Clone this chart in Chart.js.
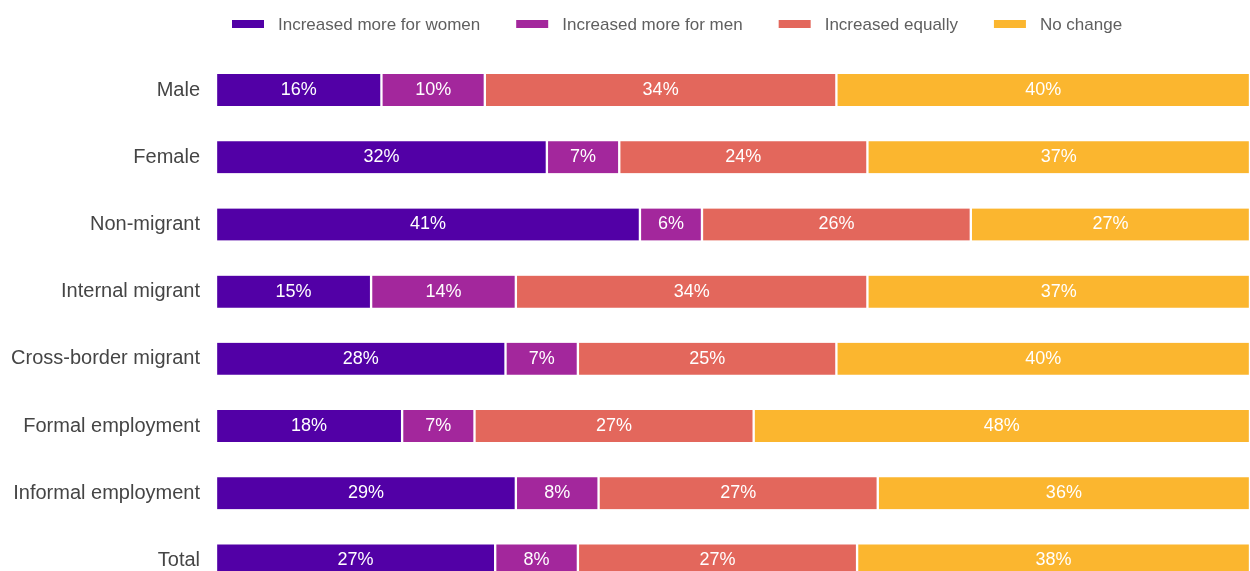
<!DOCTYPE html>
<html>
<head>
<meta charset="utf-8">
<script src="https://cdn.jsdelivr.net/npm/chart.js"></script>
<style>
    html, body { margin: 0; padding: 0; background: #fff; overflow: hidden; }
    canvas { display: block; }
</style>
</head>
<body>
<canvas id="shareChart" width="1250" height="614"></canvas>
<script>
// groups (rows, top to bottom)
const categories = [
    'Male', 'Female', 'Non-migrant', 'Internal migrant',
    'Cross-border migrant', 'Formal employment', 'Informal employment', 'Total'
];
const seriesNames = ['Increased more for women', 'Increased more for men', 'Increased equally', 'No change'];

// shares in %, one value per group
const moreForWomen = [16, 32, 41, 15, 28, 18, 29, 27];
const moreForMen   = [10,  7,  6, 14,  7,  7,  8,  8];
const equally      = [34, 24, 26, 34, 25, 27, 27, 27];
const noChange     = [40, 37, 27, 37, 40, 48, 36, 38];

const colors = ['#5200a6', '#a3279c', '#e3675c', '#fbb62f'];
const FONT = '"Liberation Sans", Arial, sans-serif';

const seriesValues = [moreForWomen, moreForMen, equally, noChange];

// white percent labels centred in each segment
const segmentLabels = {
    id: 'segmentLabels',
    afterDatasetsDraw(chart) {
        const ctx = chart.ctx;
        ctx.save();
        ctx.font = '18px ' + FONT;
        ctx.fillStyle = '#ffffff';
        ctx.textAlign = 'center';
        ctx.textBaseline = 'middle';
        chart.data.datasets.forEach((ds, i) => {
            chart.getDatasetMeta(i).data.forEach((bar, j) => {
                const cx = (bar.x + bar.base) / 2;
                ctx.fillText(ds.data[j] + '%', cx, bar.y);
            });
        });
        ctx.restore();
    }
};

// legend row across the top
const topLegend = {
    id: 'topLegend',
    afterDraw(chart) {
        const ctx = chart.ctx;
        ctx.save();
        ctx.font = '17px ' + FONT;
        ctx.textBaseline = 'middle';
        let x = 232;
        const y = 24;
        chart.data.datasets.forEach(ds => {
            ctx.fillStyle = ds.backgroundColor;
            ctx.fillRect(x, y - 4, 32, 8);
            ctx.fillStyle = '#5f5f5f';
            ctx.fillText(ds.label, x + 46, y + 1);
            x += 46 + ctx.measureText(ds.label).width + 36;
        });
        ctx.restore();
    }
};

new Chart(document.getElementById('shareChart'), {
    type: 'bar',
    data: {
        labels: categories,
        datasets: seriesNames.map((name, i) => ({
            label: name,
            data: seriesValues[i],
            backgroundColor: colors[i],
            borderColor: '#ffffff',
            borderWidth: { left: 1.5, right: 1.5, top: 0, bottom: 0 },
            borderSkipped: false,
            barThickness: 32
        }))
    },
    options: {
        indexAxis: 'y',
        responsive: false,
        animation: false,
        layout: { padding: { top: 56.5, left: 0, right: 0, bottom: 0 } },
        plugins: {
            legend: { display: false },
            tooltip: { enabled: false }
        },
        scales: {
            x: {
                stacked: true,
                min: 0,
                max: 100,
                display: false
            },
            y: {
                stacked: true,
                grid: { display: false },
                border: { display: false },
                ticks: {
                    padding: 8,
                    color: '#454545',
                    font: { family: FONT, size: 20 }
                },
                afterFit(scale) { scale.width = 216; }
            }
        }
    },
    plugins: [segmentLabels, topLegend]
});
</script>
</body>
</html>
